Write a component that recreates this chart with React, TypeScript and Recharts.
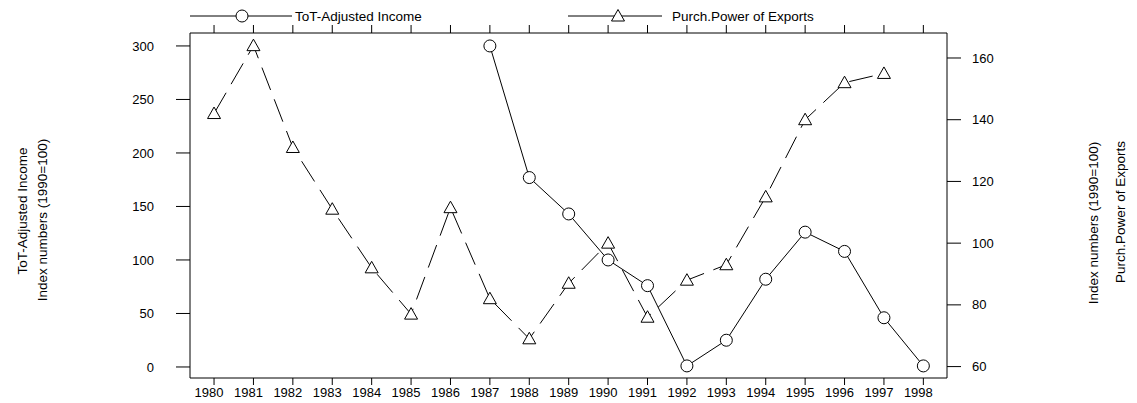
import { LineChart, Line, XAxis, YAxis } from "recharts";

// values
const years = [
  1980, 1981, 1982, 1983, 1984, 1985, 1986, 1987, 1988, 1989, 1990, 1991, 1992, 1993, 1994, 1995,
  1996, 1997, 1998,
];
const totIncome = [
  null, null, null, null, null, null, null, 300, 177, 143, 100, 76, 1, 25, 82, 126, 108, 46, 1,
];
const purchPower = [
  142, 164, 131, 111, 92, 77, 111.5, 82, 69, 87, 100, 76, 88, 93, 115, 140, 152, 155, null,
];
const leftTicks = [0, 50, 100, 150, 200, 250, 300];
const rightTicks = [60, 80, 100, 120, 140, 160];

const data = years.map((year, i) => ({ year, tot: totIncome[i], ppe: purchPower[i] }));

const FONT = "'Liberation Sans', Arial, sans-serif";
const INK = "#000";

const CircleMark = ({ cx, cy, r = 6 }: any) => (
  <circle cx={cx} cy={cy} r={r} fill="#fff" stroke={INK} strokeWidth={1} />
);

const TriangleMark = ({ cx, cy }: any) => (
  <polygon
    points={`${cx},${cy - 6.5} ${cx - 6.5},${cy + 5} ${cx + 6.5},${cy + 5}`}
    fill="#fff"
    stroke={INK}
    strokeWidth={1}
  />
);

const circleDot = (props: any) => {
  if (props.value == null || props.cy == null) return <g key={props.index} />;
  return <CircleMark key={props.index} cx={props.cx} cy={props.cy} />;
};

const triangleDot = (props: any) => {
  if (props.value == null || props.cy == null) return <g key={props.index} />;
  return <TriangleMark key={props.index} cx={props.cx} cy={props.cy} />;
};

const tickStyle = { fontFamily: FONT, fontSize: 13, fill: INK };
const textStyle = { fontFamily: FONT, fontSize: 13.5, fill: INK };

// legend strip above the plot plus the rotated axis titles
const Decorations = () => (
  <g>
    <line x1={190} y1={16} x2={292} y2={16} stroke={INK} />
    <CircleMark cx={242} cy={16} />
    <text x={295} y={16} dominantBaseline="central" style={textStyle}>
      ToT-Adjusted Income
    </text>
    <line x1={568} y1={16} x2={662} y2={16} stroke={INK} />
    <TriangleMark cx={618} cy={16} />
    <text x={672} y={16} dominantBaseline="central" style={textStyle}>
      Purch.Power of Exports
    </text>

    <text x={22} y={211} transform="rotate(-90 22 211)" textAnchor="middle" dominantBaseline="central" style={textStyle}>
      ToT-Adjusted Income
    </text>
    <text x={42} y={220} transform="rotate(-90 42 220)" textAnchor="middle" dominantBaseline="central" style={textStyle}>
      Index numbers (1990=100)
    </text>
    <text x={1093} y={223} transform="rotate(-90 1093 223)" textAnchor="middle" dominantBaseline="central" style={textStyle}>
      Index numbers (1990=100)
    </text>
    <text x={1120} y={212} transform="rotate(-90 1120 212)" textAnchor="middle" dominantBaseline="central" style={textStyle}>
      Purch.Power of Exports
    </text>
  </g>
);

export default function App() {
  return (
    <div style={{ position: "absolute", left: 0, top: 0, background: "#fff" }}>
      <LineChart
        width={1137}
        height={403}
        data={data}
        margin={{ top: 25, right: 130, bottom: 0, left: 130 }}
      >
        <XAxis
          dataKey="year"
          type="number"
          domain={[1979.39, 1998.6]}
          allowDataOverflow
          ticks={years}
          interval={0}
          tickSize={7}
          tickMargin={3}
          height={25}
          stroke={INK}
          tick={{ ...tickStyle, dx: -5 }}
        />
        <XAxis
          xAxisId="top"
          dataKey="year"
          orientation="top"
          type="number"
          domain={[1979.39, 1998.6]}
          allowDataOverflow
          ticks={years}
          interval={0}
          tickSize={8}
          height={8}
          stroke={INK}
          tickFormatter={() => ""}
        />
        <YAxis
          yAxisId="left"
          orientation="left"
          type="number"
          domain={[-10.3, 312.1]}
          allowDataOverflow
          ticks={leftTicks}
          interval={0}
          width={60}
          tickSize={14}
          tickMargin={22}
          stroke={INK}
          tick={tickStyle}
        />
        <YAxis
          yAxisId="right"
          orientation="right"
          type="number"
          domain={[56.3, 168.1]}
          allowDataOverflow
          ticks={rightTicks}
          interval={0}
          width={60}
          tickSize={14}
          tickMargin={11}
          stroke={INK}
          tick={tickStyle}
        />
        <Line
          yAxisId="left"
          dataKey="tot"
          type="linear"
          stroke={INK}
          strokeWidth={1}
          dot={circleDot}
          activeDot={false}
          connectNulls={false}
          isAnimationActive={false}
        />
        <Line
          yAxisId="right"
          dataKey="ppe"
          type="linear"
          stroke={INK}
          strokeWidth={1}
          strokeDasharray="24 10"
          dot={triangleDot}
          activeDot={false}
          connectNulls={false}
          isAnimationActive={false}
        />
        <Decorations />
      </LineChart>
    </div>
  );
}
